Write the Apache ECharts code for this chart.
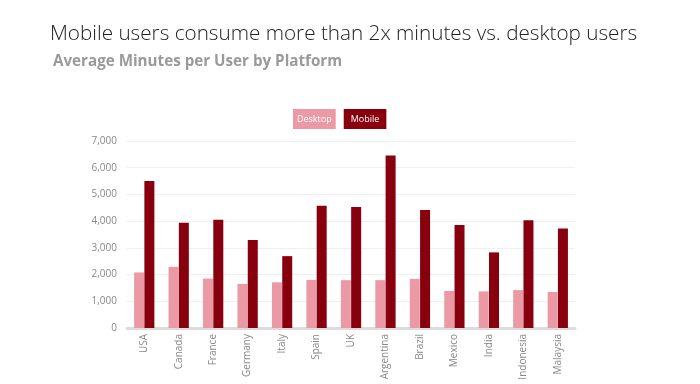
<!DOCTYPE html>
<html><head><meta charset="utf-8">
<script src="https://cdn.jsdelivr.net/npm/echarts@6/dist/echarts.min.js"></script>
<style>html,body{margin:0;padding:0;background:#fff}#c{width:700px;height:384px}</style>
</head><body><div id="c"></div>
<script>
const categories = ['USA','Canada','France','Germany','Italy','Spain','UK','Argentina','Brazil','Mexico','India','Indonesia','Malaysia'];
const desktop = [2080, 2290, 1850, 1650, 1710, 1800, 1790, 1790, 1840, 1390, 1370, 1420, 1350];
const mobile = [5500, 3940, 4050, 3290, 2690, 4580, 4530, 6460, 4420, 3860, 2830, 4030, 3720];
const yTicks = [0, 1000, 2000, 3000, 4000, 5000, 6000, 7000];
const desktopColor = '#eb99a5';
const mobileColor = '#88000e';

const chart = echarts.init(document.getElementById('c'));
chart.setOption({
  animation: false,
  backgroundColor: '#fff',
  title: [
    { text: 'Mobile users consume more than 2x minutes vs. desktop users', left: 45, top: 19,
      textStyle: { fontFamily: 'Open Sans', fontWeight: 300, fontSize: 20.7, color: '#222' } },
    { text: 'Average Minutes per User by Platform', left: 48, top: 49,
      textStyle: { fontFamily: 'Open Sans', fontWeight: 'bold', fontSize: 15.2, color: '#9a9a9a' } }
  ],
  legend: {
    top: 109, left: 288, padding: 0, itemGap: 3, icon: 'none', itemWidth: 0, itemHeight: 0,
    selectedMode: false,
    data: [
      { name: 'Desktop', textStyle: { backgroundColor: desktopColor, color: '#fff', padding: [6, 4, 5, 4] } },
      { name: 'Mobile', textStyle: { backgroundColor: mobileColor, color: '#fff', padding: [6, 7, 5, 7] } }
    ],
    textStyle: { fontFamily: 'Open Sans', fontSize: 9 }
  },
  grid: { left: 127, right: 125, top: 141, bottom: 56, containLabel: false },
  xAxis: {
    type: 'category', data: categories,
    axisLine: { lineStyle: { color: '#dcdcdc', width: 3 } },
    axisTick: { show: false },
    axisLabel: { rotate: 90, color: '#888', fontFamily: 'Open Sans', fontSize: 10, margin: 6 }
  },
  yAxis: {
    type: 'value', min: 0, max: 7000, interval: 1000,
    axisLine: { show: false }, axisTick: { show: false },
    splitLine: { lineStyle: { color: '#f0f0f0' } },
    axisLabel: { color: '#888', fontFamily: 'Open Sans', fontSize: 10, margin: 10,
      formatter: v => yTicks.includes(v) ? v.toLocaleString('en-US') : '' }
  },
  series: [
    { name: 'Desktop', type: 'bar', data: desktop, barWidth: 10, barGap: '3%',
      itemStyle: { color: desktopColor } },
    { name: 'Mobile', type: 'bar', data: mobile, barWidth: 10, barGap: '3%',
      itemStyle: { color: mobileColor } }
  ]
});
</script></body></html>
